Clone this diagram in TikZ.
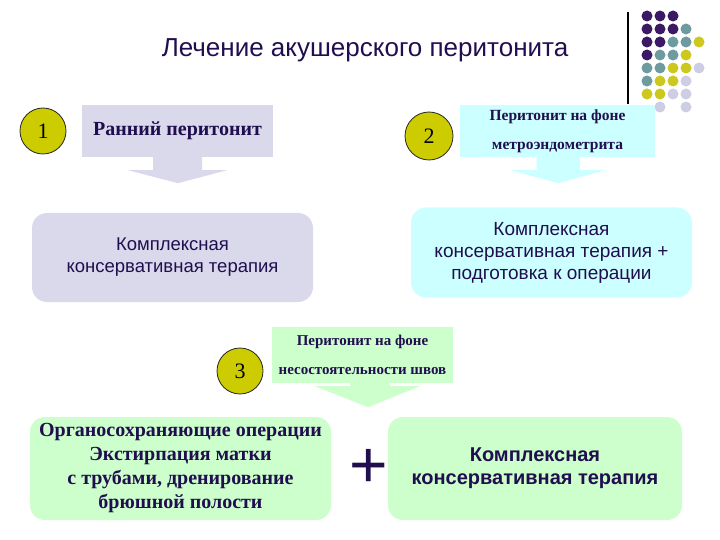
\documentclass[tikz,border=0pt]{standalone}
\usepackage{fontspec}
\setmainfont{Liberation Serif}
\setsansfont{Liberation Sans}
\usetikzlibrary{positioning,calc}

\definecolor{lav}{RGB}{217,217,235}
\definecolor{cyanbox}{RGB}{204,255,255}
\definecolor{greenbox}{RGB}{204,255,204}
\definecolor{ink}{RGB}{32,14,78}
\definecolor{olive}{RGB}{204,204,0}
\definecolor{pdot}{RGB}{60,25,100}
\definecolor{tdot}{RGB}{110,155,160}
\definecolor{ydot}{RGB}{205,200,30}
\definecolor{ldot}{RGB}{205,205,228}

\begin{document}
\begin{tikzpicture}[x=1pt,y=-1pt]
\tikzstyle{plate}=[inner sep=0pt,align=center,text=ink]
\tikzstyle{soft}=[plate,rounded corners=15pt]
\tikzstyle{numdot}=[circle,draw=black!85,line width=0.8pt,fill=olive,minimum size=46pt,inner sep=0pt,font=\fontsize{22}{22}\selectfont]
\tikzstyle{dot}=[circle,inner sep=0pt,minimum size=11pt]
\useasboundingbox (0,0) rectangle (720,540);

\node[text=ink,font=\sffamily\fontsize{26}{26}\selectfont] (title) at (365,50) {Лечение акушерского перитонита};

% corner decoration
\draw[line width=1.3pt] (628,12) -- (628,104);
\foreach \r/\l in {1/{pdot,pdot,pdot},2/{pdot,pdot,pdot,tdot},3/{pdot,pdot,tdot,tdot,ydot},
  4/{pdot,tdot,tdot,ydot},5/{tdot,tdot,ydot,ydot,ldot},6/{tdot,ydot,ydot,ldot},
  7/{ydot,ydot,ldot,ldot},8/{none,ldot,none,ldot}}
  \foreach \c [count=\k] in \l
    \node[dot,fill=\c] at ({647+13*(\k-1)},{16+13*(\r-1)}) {};

% 1
\node[numdot] (n1) at (43,131) {1};
\node[plate,fill=lav,minimum width=191pt,minimum height=52pt,font=\fontsize{20}{24}\selectfont\bfseries] (early) at (177.5,131) {Ранний перитонит};
\fill[lav] ($(early.south)+(-24.5,0)$) -- ++(0,13) -- ++(-25,0) -- ($(early.south)+(0.5,26)$)
  -- ($(early.south)+(49.5,13)$) -- ++(-25,0) -- ++(0,-13) -- cycle;
\node[soft,fill=lav,minimum width=281pt,minimum height=89pt,font=\sffamily\fontsize{18.5}{22}\selectfont] (cons) at (172.5,257.5) {Комплексная\\консервативная терапия};

% 2
\node[numdot,minimum size=48pt] (n2) at (429,136) {2};
\node[plate,fill=cyanbox,minimum width=195pt,minimum height=52pt,font=\fontsize{15.5}{29}\selectfont\bfseries] (metro) at (557.5,131) {Перитонит на фоне\\метроэндометрита};
\fill[cyanbox] ($(metro.south)+(-21,0)$) -- ++(0,13) -- ++(-25.5,0) -- ($(metro.south)+(0.5,26)$)
  -- ($(metro.south)+(47.5,13)$) -- ++(-25,0) -- ++(0,-13) -- cycle;
\node[soft,fill=cyanbox,minimum width=281pt,minimum height=90pt,font=\sffamily\fontsize{19}{22}\selectfont] (prep) at (551.5,252.5) {Комплексная\\консервативная терапия +\\подготовка к операции};

% 3
\node[numdot] (n3) at (240,371) {3};
\node[plate,fill=greenbox,minimum width=181pt,minimum height=56pt,font=\fontsize{15}{29}\selectfont\bfseries] (seam) at (362.5,355) {Перитонит на фоне\\несостоятельности швов};
\fill[greenbox] ($(seam.south)+(-12.5,0)$) -- ++(0,3) -- ++(-35,0) -- ($(seam.south)+(5.5,24)$)
  -- ($(seam.south)+(57.5,3)$) -- ++(-30,0) -- ++(0,-3) -- cycle;
\node[soft,fill=greenbox,minimum width=301pt,minimum height=103pt,font=\fontsize{20}{24}\selectfont\bfseries] (organ) at (180.5,468.5) {Органосохраняющие операции\\Экстирпация матки\\с трубами, дренирование\\брюшной полости};
\node[text=ink,font=\sffamily\fontsize{66}{66}\selectfont] (plus) at (369,468) {+};
\node[soft,fill=greenbox,minimum width=294pt,minimum height=103pt,font=\sffamily\bfseries\fontsize{20}{23}\selectfont] (therapy) at (535,468.5) {Комплексная\\консервативная терапия};
\end{tikzpicture}
\end{document}
